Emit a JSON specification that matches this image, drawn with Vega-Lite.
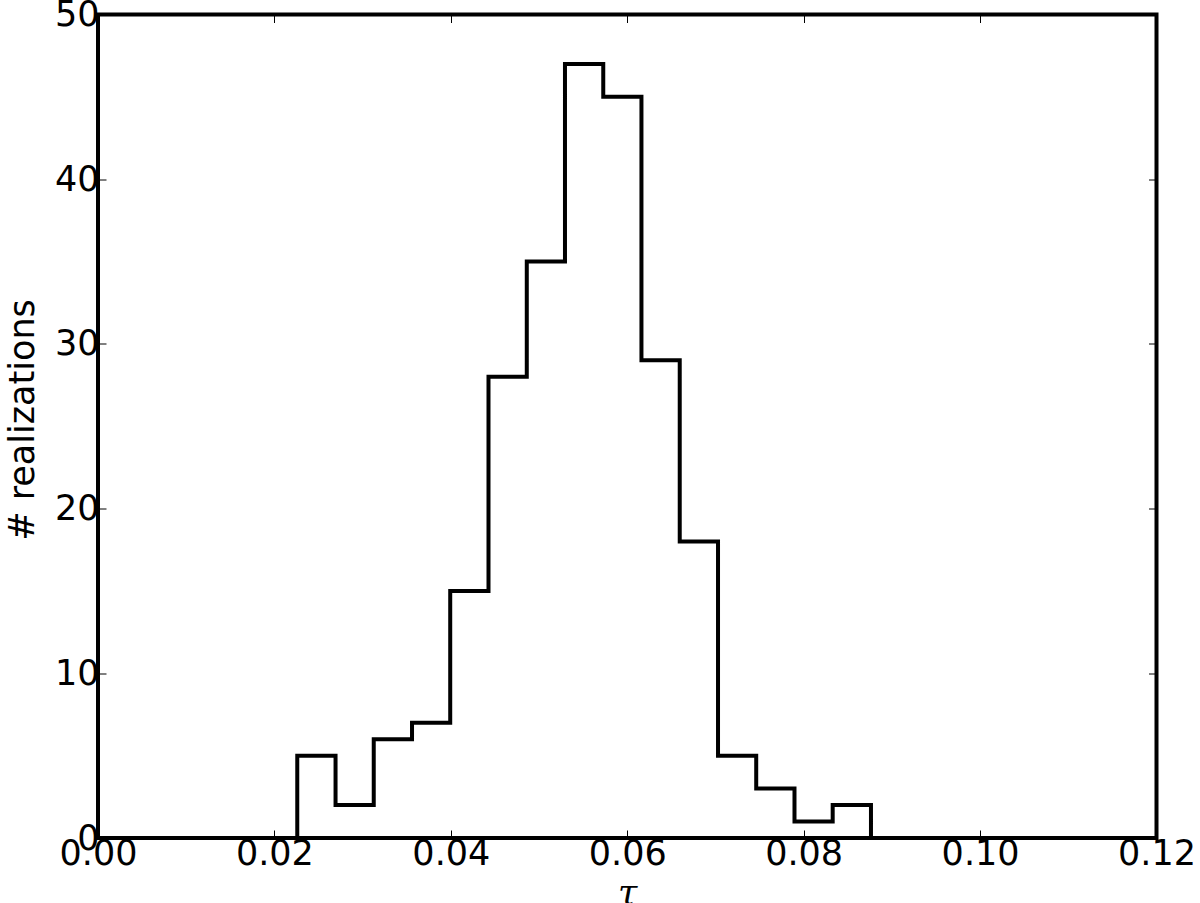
{
  "$schema": "https://vega.github.io/schema/vega-lite/v6.json",
  "width": 1058.5,
  "height": 823.5,
  "autosize": {"type": "none"},
  "padding": {"left": 98, "top": 14.5, "right": 43.5, "bottom": 65},
  "background": "white",
  "data": {
    "values": [
      {"i": 0, "tau": 0.02259, "count": 0},
      {"i": 1, "tau": 0.02259, "count": 5},
      {"i": 2, "tau": 0.02693, "count": 2},
      {"i": 3, "tau": 0.03126, "count": 6},
      {"i": 4, "tau": 0.03560, "count": 7},
      {"i": 5, "tau": 0.03993, "count": 15},
      {"i": 6, "tau": 0.04427, "count": 28},
      {"i": 7, "tau": 0.04861, "count": 35},
      {"i": 8, "tau": 0.05294, "count": 47},
      {"i": 9, "tau": 0.05728, "count": 45},
      {"i": 10, "tau": 0.06161, "count": 29},
      {"i": 11, "tau": 0.06595, "count": 18},
      {"i": 12, "tau": 0.07029, "count": 5},
      {"i": 13, "tau": 0.07462, "count": 3},
      {"i": 14, "tau": 0.07896, "count": 1},
      {"i": 15, "tau": 0.08329, "count": 2},
      {"i": 16, "tau": 0.08763, "count": 0}
    ]
  },
  "layer": [
    {
      "mark": {"type": "line", "interpolate": "step-after", "color": "black", "strokeWidth": 4, "strokeJoin": "miter", "strokeCap": "butt"},
      "encoding": {
        "x": {
          "field": "tau", "type": "quantitative",
          "scale": {"domain": [0, 0.12], "nice": false, "zero": false},
          "axis": {"orient": "bottom", "values": [0, 0.02, 0.04, 0.06, 0.08, 0.1, 0.12], "format": ".2f", "labelPadding": 6, "title": "τ", "titleFont": "DejaVu Serif", "titleFontStyle": "italic", "titleFontSize": 35, "titleFontWeight": "normal", "titlePadding": 5}
        },
        "y": {
          "field": "count", "type": "quantitative",
          "scale": {"domain": [0, 50], "nice": false},
          "axis": {"orient": "left", "values": [0, 10, 20, 30, 40, 50], "labelPadding": 7, "title": "# realizations", "titleFont": "DejaVu Sans", "titleFontSize": 35, "titleFontWeight": "normal", "titlePadding": 14, "titleY": 405}
        },
        "order": {"field": "i", "type": "quantitative"}
      }
    },
    {
      "mark": {"type": "line", "opacity": 0},
      "encoding": {
        "x": {"field": "tau", "type": "quantitative", "axis": {"orient": "top", "values": [0, 0.02, 0.04, 0.06, 0.08, 0.1, 0.12], "labels": false, "title": null}},
        "y": {"field": "count", "type": "quantitative", "axis": {"orient": "right", "values": [0, 10, 20, 30, 40, 50], "labels": false, "title": null}},
        "order": {"field": "i", "type": "quantitative"}
      }
    }
  ],
  "resolve": {"axis": {"x": "independent", "y": "independent"}},
  "config": {
    "view": {"stroke": "black", "strokeWidth": 4},
    "axis": {"domain": false, "grid": false, "tickColor": "black", "tickWidth": 1, "tickSize": -8, "labelFont": "DejaVu Sans", "labelFontSize": 35, "labelColor": "black", "titleColor": "black", "labelFlush": false, "labelOverlap": false}
  }
}
